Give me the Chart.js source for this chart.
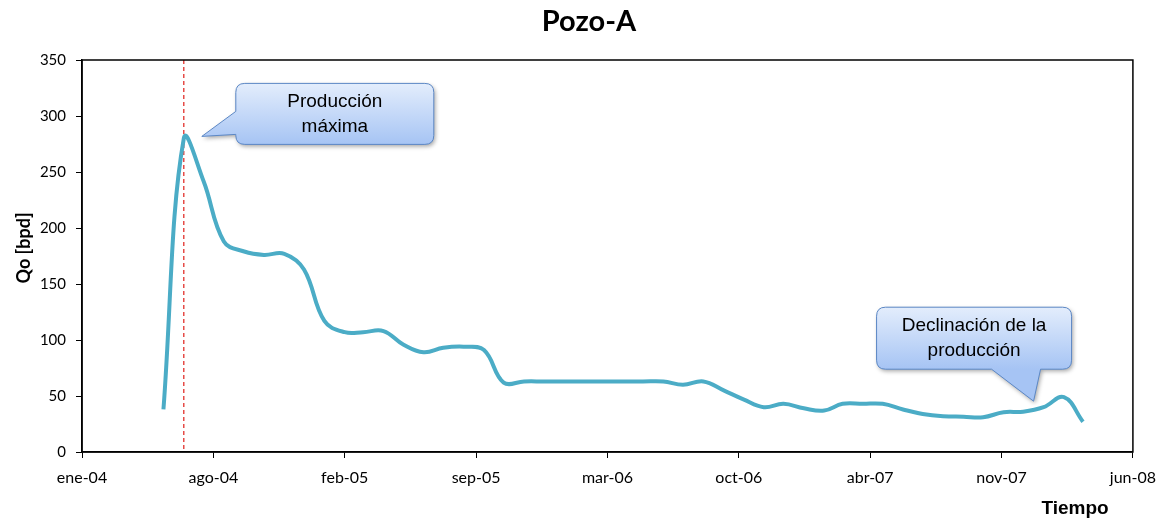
<!DOCTYPE html>
<html>
<head>
<meta charset="utf-8">
<title>Pozo-A</title>
<script src="https://cdn.jsdelivr.net/npm/chart.js@4.4.1/dist/chart.umd.min.js"></script>
<style>
    html, body { margin: 0; padding: 0; background: #fff; }
    #wrap { width: 1166px; height: 522px; }
</style>
</head>
<body>
<div id="wrap"><canvas id="grafico" width="1166" height="522"></canvas></div>
<script>
// Producción mensual del pozo (fecha de medición y caudal de petróleo en bpd)
const fechas = [
    '2004-05-17', '2004-06-17', '2004-07-17', '2004-08-17', '2004-09-17', '2004-10-17',
    '2004-11-17', '2004-12-17', '2005-01-17', '2005-02-17', '2005-03-17', '2005-04-17',
    '2005-05-17', '2005-06-17', '2005-07-17', '2005-08-17', '2005-09-17', '2005-10-17',
    '2005-11-17', '2005-12-17', '2006-01-17', '2006-02-17', '2006-03-17', '2006-04-17',
    '2006-05-17', '2006-06-17', '2006-07-17', '2006-08-17', '2006-09-17', '2006-10-17',
    '2006-11-17', '2006-12-17', '2007-01-17', '2007-02-17', '2007-03-17', '2007-04-17',
    '2007-05-17', '2007-06-17', '2007-07-17', '2007-08-17', '2007-09-17', '2007-10-17',
    '2007-11-17', '2007-12-17', '2008-01-17', '2008-02-17', '2008-03-17'
];
const qo = [
    38, 280, 242, 188, 179, 176,
    177, 163, 117, 107, 107, 108,
    96, 89, 93, 94, 91, 62,
    63, 63, 63, 63, 63, 63,
    63, 63, 60, 63, 55, 47,
    40, 43, 39, 37, 43, 43,
    43, 38, 34, 32, 31.5, 31,
    35.5, 36, 40, 49, 27
];

// Eje de tiempo en días serie (estilo hoja de cálculo)
const ejeXMin = 38000;
const ejeXMax = 39600;
const pasoX = 200;
const ejeYMax = 350;
const pasoY = 50;
const meses = ['ene', 'feb', 'mar', 'abr', 'may', 'jun', 'jul', 'ago', 'sep', 'oct', 'nov', 'dic'];

const DIA_MS = 86400000;
const ORIGEN = Date.UTC(1899, 11, 30);

function aSerie(fecha) {
    const [a, m, d] = fecha.split('-').map(Number);
    return Math.round((Date.UTC(a, m - 1, d) - ORIGEN) / DIA_MS);
}

function etiquetaMes(serie) {
    const f = new Date(ORIGEN + serie * DIA_MS);
    return meses[f.getUTCMonth()] + '-' + String(f.getUTCFullYear()).slice(2);
}

const puntos = fechas.map((f, i) => ({ x: aSerie(f), y: qo[i] }));
const iMax = qo.indexOf(Math.max(...qo));
const iDeclinacion = fechas.indexOf('2008-01-17');

// Globo de texto con puntero hacia un punto
function globo(ctx, caja, puntero, lineas) {
    const { x, y, w, h } = caja;
    const r = 9;
    ctx.save();
    ctx.beginPath();
    ctx.moveTo(x + r, y);
    ctx.lineTo(x + w - r, y);
    ctx.quadraticCurveTo(x + w, y, x + w, y + r);
    ctx.lineTo(x + w, y + h - r);
    ctx.quadraticCurveTo(x + w, y + h, x + w - r, y + h);
    if (puntero.lado === 'abajo') {
        ctx.lineTo(puntero.b2, y + h);
        ctx.lineTo(puntero.tx, puntero.ty);
        ctx.lineTo(puntero.b1, y + h);
    }
    ctx.lineTo(x + r, y + h);
    ctx.quadraticCurveTo(x, y + h, x, y + h - r);
    if (puntero.lado === 'izq') {
        ctx.lineTo(x, puntero.b2);
        ctx.lineTo(puntero.tx, puntero.ty);
        ctx.lineTo(x, puntero.b1);
    }
    ctx.lineTo(x, y + r);
    ctx.quadraticCurveTo(x, y, x + r, y);
    ctx.closePath();

    const grad = ctx.createLinearGradient(0, y, 0, y + h);
    grad.addColorStop(0, '#e3edfc');
    grad.addColorStop(1, '#a6c4f4');
    ctx.shadowColor = 'rgba(0, 0, 0, 0.35)';
    ctx.shadowBlur = 4;
    ctx.shadowOffsetX = 1.5;
    ctx.shadowOffsetY = 2;
    ctx.fillStyle = grad;
    ctx.fill();
    ctx.shadowColor = 'transparent';
    ctx.strokeStyle = '#5b87c5';
    ctx.lineWidth = 1;
    ctx.stroke();

    ctx.fillStyle = '#000';
    ctx.font = '19px "Liberation Sans", Arial, sans-serif';
    ctx.textAlign = 'center';
    ctx.textBaseline = 'middle';
    const cx = x + w / 2;
    const paso = 25;
    const y0 = y + h / 2 - (lineas.length - 1) * paso / 2;
    lineas.forEach((t, i) => ctx.fillText(t, cx, y0 + i * paso));
    ctx.restore();
}

const anotaciones = {
    id: 'anotaciones',
    beforeDatasetsDraw(chart) {
        const { ctx, chartArea: a, scales } = chart;
        // Línea de producción máxima
        const xm = scales.x.getPixelForValue(puntos[iMax].x);
        ctx.save();
        ctx.strokeStyle = '#e0201b';
        ctx.lineWidth = 1.2;
        ctx.setLineDash([4, 3]);
        ctx.beginPath();
        ctx.moveTo(xm, a.top);
        ctx.lineTo(xm, a.bottom);
        ctx.stroke();
        ctx.restore();

        // Marco del área de trazado
        ctx.save();
        ctx.strokeStyle = '#000';
        ctx.lineWidth = 1.5;
        ctx.strokeRect(a.left, a.top, a.right - a.left, a.bottom - a.top);
        ctx.restore();
    },
    afterDraw(chart) {
        const { ctx, scales } = chart;

        const pxMax = scales.x.getPixelForValue(puntos[iMax].x);
        const pyMax = scales.y.getPixelForValue(puntos[iMax].y);
        const t1 = { x: pxMax + 18, y: pyMax - 2 };
        globo(ctx,
            { x: t1.x + 34, y: t1.y - 53, w: 198, h: 61 },
            { lado: 'izq', tx: t1.x, ty: t1.y, b1: t1.y - 25, b2: t1.y - 2 },
            ['Producción', 'máxima']);

        const pxD = scales.x.getPixelForValue(puntos[iDeclinacion].x);
        const pyD = scales.y.getPixelForValue(puntos[iDeclinacion].y);
        const t2 = { x: pxD - 10, y: pyD - 6 };
        globo(ctx,
            { x: t2.x - 157, y: t2.y - 94, w: 195, h: 62 },
            { lado: 'abajo', tx: t2.x, ty: t2.y, b1: t2.x - 42, b2: t2.x + 7 },
            ['Declinación de la', 'producción']);

        ctx.save();
        ctx.fillStyle = '#000';
        ctx.textAlign = 'center';
        ctx.textBaseline = 'middle';
        // Título del gráfico
        ctx.font = 'bold 29px Lato, "Open Sans", sans-serif';
        ctx.fillText('Pozo-A', 589, 22);
        // Título del eje de tiempo
        ctx.font = 'bold 19px "Liberation Sans", Arial, sans-serif';
        ctx.fillText('Tiempo', 1075, 509);
        // Título del eje de caudal
        ctx.translate(24, 248);
        ctx.rotate(-Math.PI / 2);
        ctx.font = 'bold 18px Lato, "Open Sans", sans-serif';
        ctx.fillText('Qo [bpd]', 0, 0);
        ctx.restore();
    }
};

Chart.defaults.font.family = 'Lato, "Open Sans", sans-serif';
Chart.defaults.color = '#000';

new Chart(document.getElementById('grafico'), {
    type: 'line',
    data: {
        datasets: [{
            label: 'Qo',
            data: puntos,
            borderColor: '#4bacc6',
            borderWidth: 4,
            pointRadius: 0,
            tension: 0.4,
            fill: false
        }]
    },
    options: {
        responsive: false,
        animation: false,
        layout: { padding: { left: 0, right: 30, top: 60, bottom: 0 } },
        plugins: {
            legend: { display: false },
            tooltip: { enabled: false },
            title: { display: false }
        },
        scales: {
            x: {
                type: 'linear',
                min: ejeXMin,
                max: ejeXMax,
                afterFit: s => { s.height = 70; },
                afterBuildTicks: s => {
                    const t = [];
                    for (let v = ejeXMin; v <= ejeXMax; v += pasoX) t.push({ value: v });
                    s.ticks = t;
                },
                ticks: {
                    callback: v => etiquetaMes(v),
                    font: { size: 16 },
                    padding: 10,
                    maxRotation: 0,
                    autoSkip: false
                },
                grid: {
                    drawOnChartArea: false,
                    color: '#000',
                    tickLength: 6
                },
                border: { color: '#000', width: 1.5 }
            },
            y: {
                min: 0,
                max: ejeYMax,
                afterFit: s => { s.width = 82; },
                ticks: {
                    stepSize: pasoY,
                    font: { size: 15 },
                    padding: 10
                },
                grid: {
                    drawOnChartArea: false,
                    color: '#000',
                    tickLength: 6
                },
                border: { color: '#000', width: 1.5 }
            }
        }
    },
    plugins: [anotaciones]
});
</script>
</body>
</html>
